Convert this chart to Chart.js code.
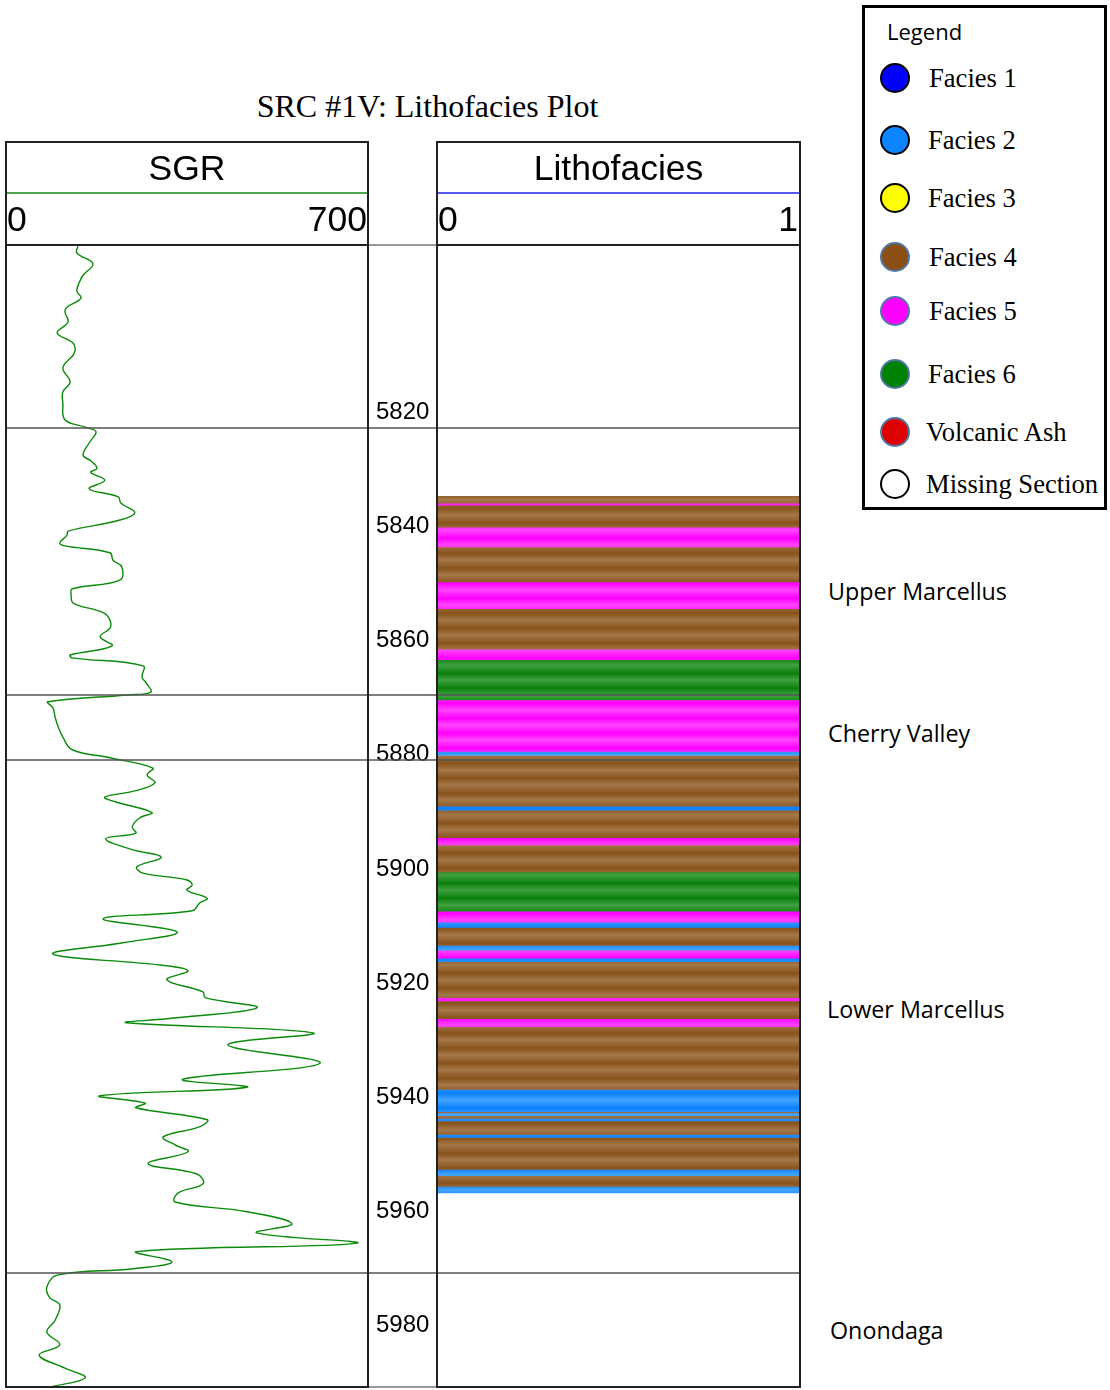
<!DOCTYPE html>
<html>
<head>
<meta charset="utf-8">
<script src="https://cdn.jsdelivr.net/npm/chart.js@4.4.1/dist/chart.umd.min.js"></script>
<style>
html,body{margin:0;padding:0;background:#fff;}
body{width:1110px;height:1390px;position:relative;overflow:hidden;}
.frame{position:absolute;box-sizing:border-box;border:2px solid #222;z-index:3;}
.line{position:absolute;z-index:3;}
.hdr{position:absolute;font-family:"Liberation Sans",Arial,sans-serif;font-size:35.5px;line-height:35px;color:#000;z-index:4;white-space:nowrap;}
.title{position:absolute;left:0;width:855px;top:91px;text-align:center;font-family:"Liberation Serif","Times New Roman",serif;font-size:32px;line-height:31px;color:#000;}
.fm{position:absolute;font-family:"Open Sans",sans-serif;font-size:23.3px;line-height:23px;color:#000;white-space:nowrap;}
#legend{position:absolute;left:862px;top:5px;width:245px;height:505px;box-sizing:border-box;border:3px solid #000;}
.lgTitle{position:absolute;left:22px;top:12px;font-family:"Open Sans",sans-serif;font-size:22px;line-height:22px;}
.lgDot{position:absolute;width:26px;height:26px;border-radius:50%;box-sizing:content-box;border:2.5px solid #000;}
.lgTxt{position:absolute;font-family:"Liberation Serif","Times New Roman",serif;font-size:26.6px;line-height:26px;white-space:nowrap;}
canvas{position:absolute;z-index:1;}
</style>
</head>
<body>
<div class="title" id="title"></div>

<canvas id="sgr" width="431" height="1142" style="left:6px;top:245px;"></canvas>
<canvas id="lith" width="363" height="1142" style="left:437px;top:245px;"></canvas>

<div class="frame" style="left:5px;top:141px;width:364px;height:1247px;"></div>
<div class="frame" style="left:436px;top:141px;width:365px;height:1247px;"></div>
<div class="line" style="left:7px;top:192px;width:360px;height:1.5px;background:#4fa84f;"></div>
<div class="line" style="left:438px;top:192px;width:361px;height:1.5px;background:#5858ee;"></div>
<div class="line" style="left:5px;top:244px;width:364px;height:2px;background:#222;"></div>
<div class="line" style="left:369px;top:244px;width:67px;height:1.5px;background:#9a9a9a;"></div>
<div class="line" style="left:436px;top:244px;width:365px;height:2px;background:#222;"></div>
<div class="line" style="left:369px;top:1386px;width:67px;height:1.5px;background:#9a9a9a;"></div>

<div class="hdr" id="sgrName" style="left:6px;width:362px;top:151px;text-align:center;"></div>
<div class="hdr" id="sgrMin" style="left:7px;top:202px;"></div>
<div class="hdr" id="sgrMax" style="left:200px;width:167px;top:202px;text-align:right;"></div>
<div class="hdr" id="lithName" style="left:437px;width:363px;top:151px;text-align:center;"></div>
<div class="hdr" id="lithMin" style="left:438px;top:202px;"></div>
<div class="hdr" id="lithMax" style="left:700px;width:98px;top:202px;text-align:right;"></div>

<div id="fmLabels"></div>
<div id="legend"><div class="lgTitle">Legend</div></div>

<script>
// ---------------- DATA ----------------
const chartTitle = "SRC #1V: Lithofacies Plot";
const depthRange = [5789.5, 5989.5];
const depthTicks = [5820, 5840, 5860, 5880, 5900, 5920, 5940, 5960, 5980];
const sgrRange = [0, 700];
const lithRange = [0, 1];

// SGR curve (depth ft, API)
const sgrDepth = [5789.7,5790.9,5792.8,5794.8,5796.2,5797.6,5798.8,5800.4,5801.2,5803.0,5804.9,5806.7,5808.4,5811.0,5813.5,5815.2,5817.2,5820.1,5821.4,5822.2,5824.0,5826.3,5827.3,5828.6,5829.3,5830.7,5832.2,5833.6,5834.7,5836.4,5837.8,5839.6,5840.3,5841.7,5842.2,5843.4,5844.7,5845.9,5848.2,5849.7,5850.8,5852.2,5853.9,5855.2,5856.6,5858.1,5859.7,5861.3,5861.8,5863.2,5865.2,5866.2,5867.8,5868.3,5869.5,5870.6,5872.2,5873.9,5875.7,5877.9,5879.3,5881.1,5882.3,5883.7,5885.1,5886.2,5887.0,5888.9,5889.8,5891.4,5892.5,5893.5,5895.4,5896.7,5898.4,5899.5,5900.7,5901.6,5902.5,5903.9,5904.7,5906.1,5907.5,5909.8,5911.7,5913.7,5915.6,5916.6,5918.2,5920.3,5921.3,5923.1,5925.0,5925.7,5927.5,5929.6,5932.8,5935.6,5937.0,5938.5,5939.8,5940.6,5942.7,5943.9,5945.7,5947.1,5948.3,5950.4,5952.2,5953.9,5955.5,5957.1,5958.8,5960.9,5962.5,5964.3,5965.8,5967.6,5968.8,5969.9,5972.0,5973.9,5975.1,5977.8,5979.9,5982.1,5983.9,5986.2,5987.9,5989.5];
const sgrValue = [139,137,168,149,141,137,145,118,114,120,99,130,132,110,124,110,110,114,153,174,162,149,164,176,164,191,161,217,222,249,215,120,118,104,114,201,207,224,220,128,126,130,188,201,201,182,205,124,128,265,263,271,280,234,81,91,95,101,110,128,201,284,273,288,249,191,211,282,259,244,251,193,244,300,253,265,350,360,350,389,375,360,188,331,226,91,298,352,311,381,385,485,311,234,594,429,607,342,466,182,269,251,389,375,304,327,352,275,369,381,333,327,466,553,485,679,253,321,246,99,79,85,104,95,79,104,64,114,153,85];

// Lithofacies intervals (top ft, base ft, facies code)
const faciesTop  = [5833.5,5834.7,5835.2,5838.9,5842.5,5848.5,5853.3,5860.3,5862.1,5869.3,5878.3,5878.9,5887.9,5888.5,5893.3,5894.7,5899.3,5906.3,5908.2,5909.0,5912.3,5913.0,5914.5,5915.0,5921.3,5922.0,5925.0,5926.5,5937.5,5941.3,5941.6,5942.0,5942.6,5942.9,5945.4,5945.8,5951.5,5952.5,5954.5];
const faciesBase = [5834.7,5835.2,5838.9,5842.5,5848.5,5853.3,5860.3,5862.1,5869.3,5878.3,5878.9,5887.9,5888.5,5893.3,5894.7,5899.3,5906.3,5908.2,5909.0,5912.3,5913.0,5914.5,5915.0,5921.3,5922.0,5925.0,5926.5,5937.5,5941.3,5941.6,5942.0,5942.6,5942.9,5945.4,5945.8,5951.5,5952.5,5954.5,5955.5];
const faciesCode = [4,5,4,5,4,5,4,5,6,5,2,4,2,4,5,4,6,5,2,4,2,5,2,4,5,4,5,4,2,4,2,4,2,4,2,4,2,4,2];

const faciesNames = ["Facies 1","Facies 2","Facies 3","Facies 4","Facies 5","Facies 6","Volcanic Ash","Missing Section"];
const faciesColors = ["#0000ff","#0a84ff","#ffff00","#8b4f14","#ff00ff","#008000","#dd0000","#ffffff"];

const formationNames = ["Upper Marcellus","Cherry Valley","Lower Marcellus","Onondaga"];
const formationTops = [5821.5, 5868.3, 5879.7, 5969.5];

// ---------------- STYLE ----------------
const bandShades = {
  1: ["#3a3aff", "#0000e0"],
  2: ["#44a4ff", "#0a80ff"],
  3: ["#ffff66", "#e6e600"],
  4: ["#a47849", "#88531c"],
  5: ["#ff44ff", "#ff00ff"],
  6: ["#40a040", "#0b800b"],
  7: ["#ff4040", "#d00000"]
};
const legendY = [78,140,198,257,311,374,432,484];
const legendBorder = ["#000","#000","#000","#4f78a8","#4f78a8","#4f78a8","#4f78a8","#000"];
const legendTextX = [929,928,928,929,929,928,926,926];
const fmLabelPos = [[828,580],[828,722],[827,998],[830,1319]];

// ---------------- TEXT ----------------
document.getElementById('title').textContent = chartTitle;
document.getElementById('sgrName').textContent = 'SGR';
document.getElementById('sgrMin').textContent = String(sgrRange[0]);
document.getElementById('sgrMax').textContent = String(sgrRange[1]);
document.getElementById('lithName').textContent = 'Lithofacies';
document.getElementById('lithMin').textContent = String(lithRange[0]);
document.getElementById('lithMax').textContent = String(lithRange[1]);

const fmDiv = document.getElementById('fmLabels');
formationNames.forEach((n,i)=>{
  const d = document.createElement('div');
  d.className='fm'; d.textContent=n;
  d.style.left=fmLabelPos[i][0]+'px'; d.style.top=fmLabelPos[i][1]+'px';
  fmDiv.appendChild(d);
});

const lg = document.getElementById('legend');
faciesNames.forEach((n,i)=>{
  const dot = document.createElement('div');
  dot.className='lgDot';
  dot.style.background = faciesColors[i];
  dot.style.borderColor = legendBorder[i];
  dot.style.left = (895-862-3-15.5)+'px';
  dot.style.top = (legendY[i]-5-3-15.5)+'px';
  lg.appendChild(dot);
  const t = document.createElement('div');
  t.className='lgTxt'; t.textContent=n;
  t.style.left=(legendTextX[i]-862-3)+'px';
  t.style.top=(legendY[i]-13.5-5-3)+'px';
  lg.appendChild(t);
});

// ---------------- CHARTS ----------------
const formationLines = {
  id:'formationLines',
  afterDatasetsDraw(chart, args, opts){
    const {ctx, chartArea} = chart;
    const y = chart.scales.y;
    ctx.save();
    ctx.strokeStyle = '#555';
    ctx.lineWidth = 1.5;
    formationTops.forEach(d=>{
      const py = Math.round(y.getPixelForValue(d));
      ctx.beginPath();
      ctx.moveTo(chartArea.left, py);
      ctx.lineTo(opts.toCanvasEdge ? chart.width : chartArea.right, py);
      ctx.stroke();
    });
    ctx.restore();
  }
};

// SGR track with depth labels
new Chart(document.getElementById('sgr').getContext('2d'), {
  type:'line',
  data:{datasets:[{
    data: sgrDepth.map((d,i)=>({x:sgrValue[i], y:d})),
    borderColor:'#0b8a0b', borderWidth:1.4, pointRadius:0, tension:0.4, fill:false
  }]},
  options:{
    responsive:false, animation:false, indexAxis:'y',
    layout:{padding:0},
    plugins:{legend:{display:false}, tooltip:{enabled:false}, formationLines:{toCanvasEdge:true}},
    scales:{
      x:{type:'linear', min:sgrRange[0], max:sgrRange[1], display:false},
      y:{type:'linear', reverse:true, min:depthRange[0], max:depthRange[1], position:'right',
         grid:{display:false, drawTicks:false}, border:{display:false},
         afterBuildTicks:s=>{ s.ticks = depthTicks.map(v=>({value:v})); },
         afterFit:s=>{ s.width = 69; s.paddingTop = 0; s.paddingBottom = 0; },
         ticks:{padding:8, autoSkip:false, maxRotation:0, color:'#000', labelOffset:-7,
                font:{family:'"Liberation Sans", Arial, sans-serif', size:24},
                callback:v=>String(v)}
      }
    }
  },
  plugins:[formationLines]
});

// Lithofacies track
const lithCtx = document.getElementById('lith').getContext('2d');
function stripes(light, dark){
  const c = document.createElement('canvas');
  c.width = 4; c.height = 15;
  const g = c.getContext('2d');
  const gr = g.createLinearGradient(0,0,0,15);
  gr.addColorStop(0, light); gr.addColorStop(0.55, dark); gr.addColorStop(1, light);
  g.fillStyle = gr; g.fillRect(0,0,4,15);
  return lithCtx.createPattern(c,'repeat');
}
const lithDatasets = [];
for (let code=1; code<=7; code++){
  const pts = [];
  faciesCode.forEach((c,i)=>{ if(c===code) pts.push({x:'Lithofacies', y:[faciesTop[i], faciesBase[i]]}); });
  if (!pts.length) continue;
  lithDatasets.push({
    label: faciesNames[code-1], data: pts,
    backgroundColor: stripes(bandShades[code][0], bandShades[code][1]),
    borderWidth:0, grouped:false, barPercentage:1, categoryPercentage:1
  });
}
new Chart(lithCtx, {
  type:'bar',
  data:{labels:['Lithofacies'], datasets:lithDatasets},
  options:{
    responsive:false, animation:false,
    layout:{padding:0},
    plugins:{legend:{display:false}, tooltip:{enabled:false}, formationLines:{toCanvasEdge:false}},
    scales:{
      x:{display:false},
      y:{type:'linear', display:false, reverse:true, min:depthRange[0], max:depthRange[1]}
    }
  },
  plugins:[formationLines]
});
</script>
</body>
</html>
